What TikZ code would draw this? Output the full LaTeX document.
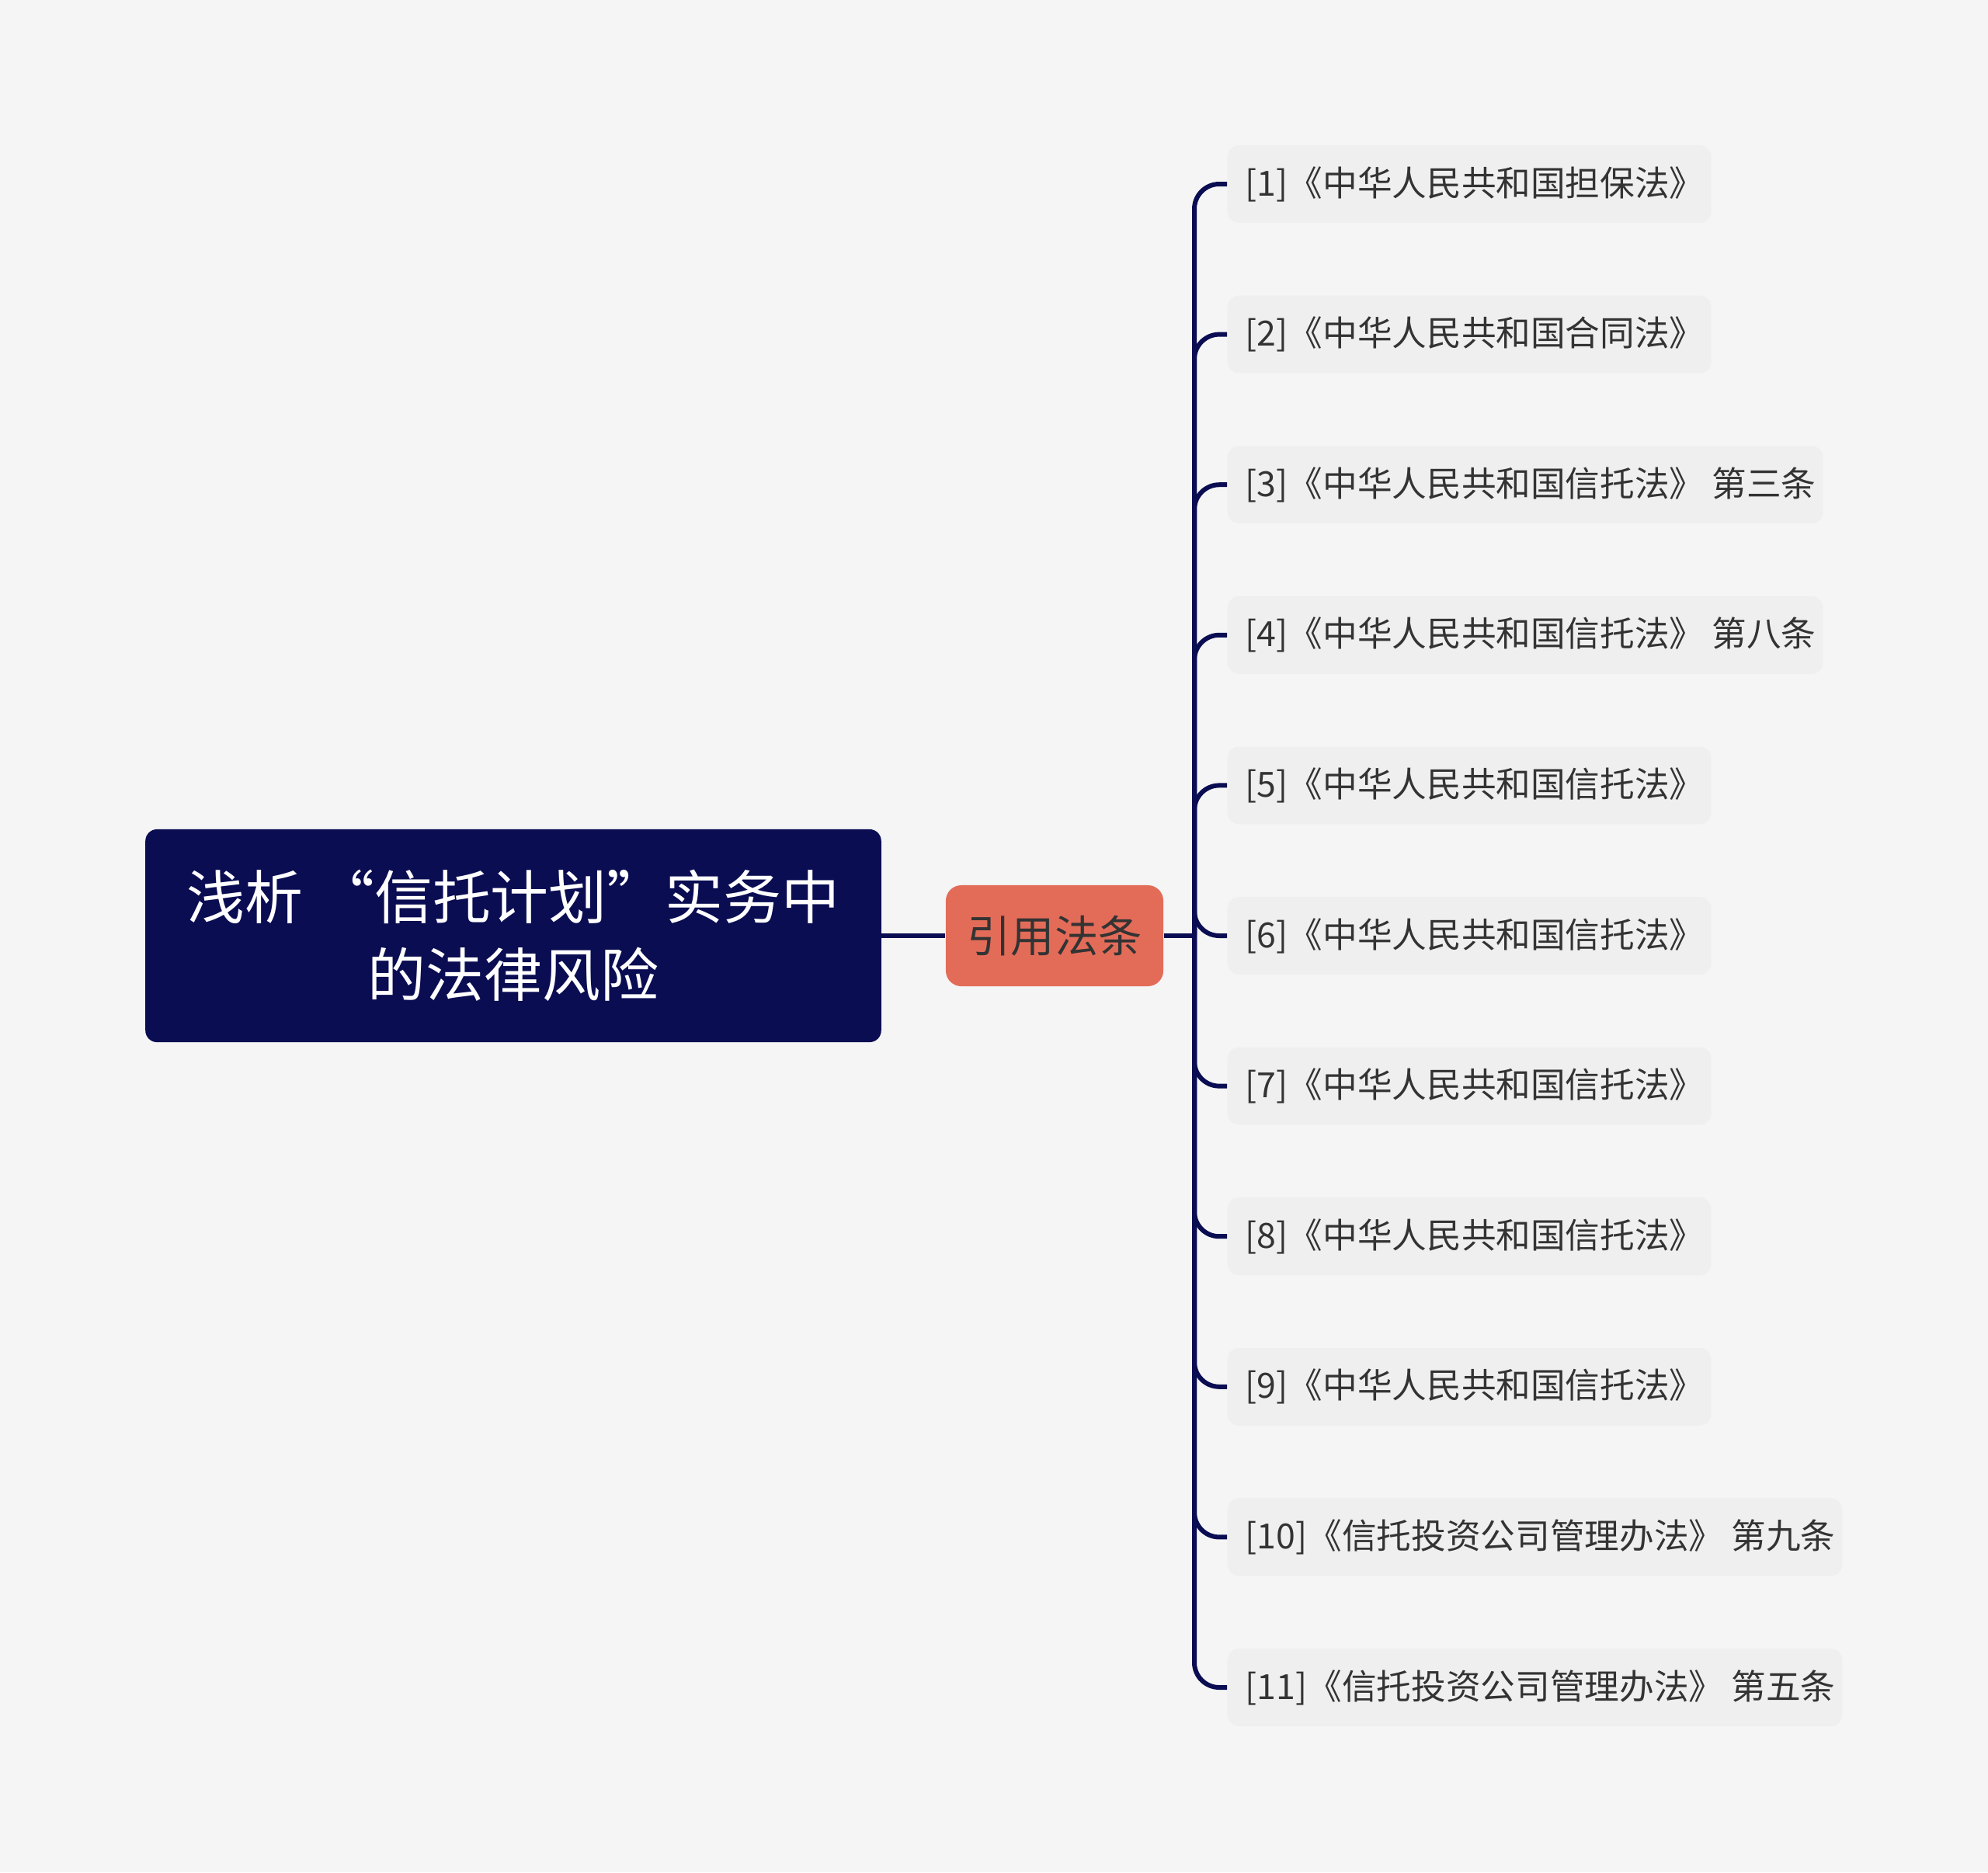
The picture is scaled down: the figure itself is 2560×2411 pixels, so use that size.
\documentclass[tikz,border=0pt]{standalone}
\usepackage{fontspec}
\setmainfont{Noto Sans CJK SC}
\definecolor{navy}{HTML}{0A0D52}
\definecolor{coral}{HTML}{E36C59}
\definecolor{leafgray}{HTML}{EFEFEF}
\definecolor{bggray}{HTML}{F5F5F5}
\definecolor{txtgray}{HTML}{333333}
\begin{document}
\begin{tikzpicture}[x=0.01cm,y=-0.01cm,
    conn/.style={draw=navy,line width=1.7pt,rounded corners=0.32cm},
    rootbox/.style={fill=navy,rounded corners=0.15cm,text=white,align=center,
        minimum width=9.47cm,minimum height=2.74cm,font=\fontsize{21.3}{28.4}\selectfont},
    midbox/.style={fill=coral,rounded corners=0.2cm,text=txtgray,
        minimum width=2.8cm,minimum height=1.3cm,font=\fontsize{16}{20}\selectfont},
    leafbox/.style={fill=leafgray,rounded corners=0.15cm,text=txtgray,anchor=west,
        minimum height=1cm,inner xsep=0.23cm,font=\fontsize{12.7}{16}\selectfont,
        execute at end node={\hspace{-0.14cm}}}]
    \fill[bggray] (0,0) rectangle (2560,2411);
    \useasboundingbox (0,0) rectangle (2560,2411);
    \node[rootbox] (root) at (661,1205) {浅析 “信托计划”实务中\\的法律风险};
    \node[midbox] (cite) at (1358,1205) {引用法条};
    \coordinate (trunk) at (1538,1205);
    \foreach \i/\t in {1/{[1]《中华人民共和国担保法》},
                       2/{[2]《中华人民共和国合同法》},
                       3/{[3]《中华人民共和国信托法》 第三条},
                       4/{[4]《中华人民共和国信托法》 第八条},
                       5/{[5]《中华人民共和国信托法》},
                       6/{[6]《中华人民共和国信托法》},
                       7/{[7]《中华人民共和国信托法》},
                       8/{[8]《中华人民共和国信托法》},
                       9/{[9]《中华人民共和国信托法》},
                       10/{[10]《信托投资公司管理办法》 第九条},
                       11/{[11]《信托投资公司管理办法》 第五条}}
        \node[leafbox] (law\i) at (1580,{237+(\i-1)*193.6}) {\t};
    % connectors
    \draw[conn] (root.east) -- (cite.west);
    \draw[conn] (cite.east) -- (trunk);
    \foreach \i in {1,...,11}
        \draw[conn] (trunk) |- (law\i.west);
\end{tikzpicture}
\end{document}
